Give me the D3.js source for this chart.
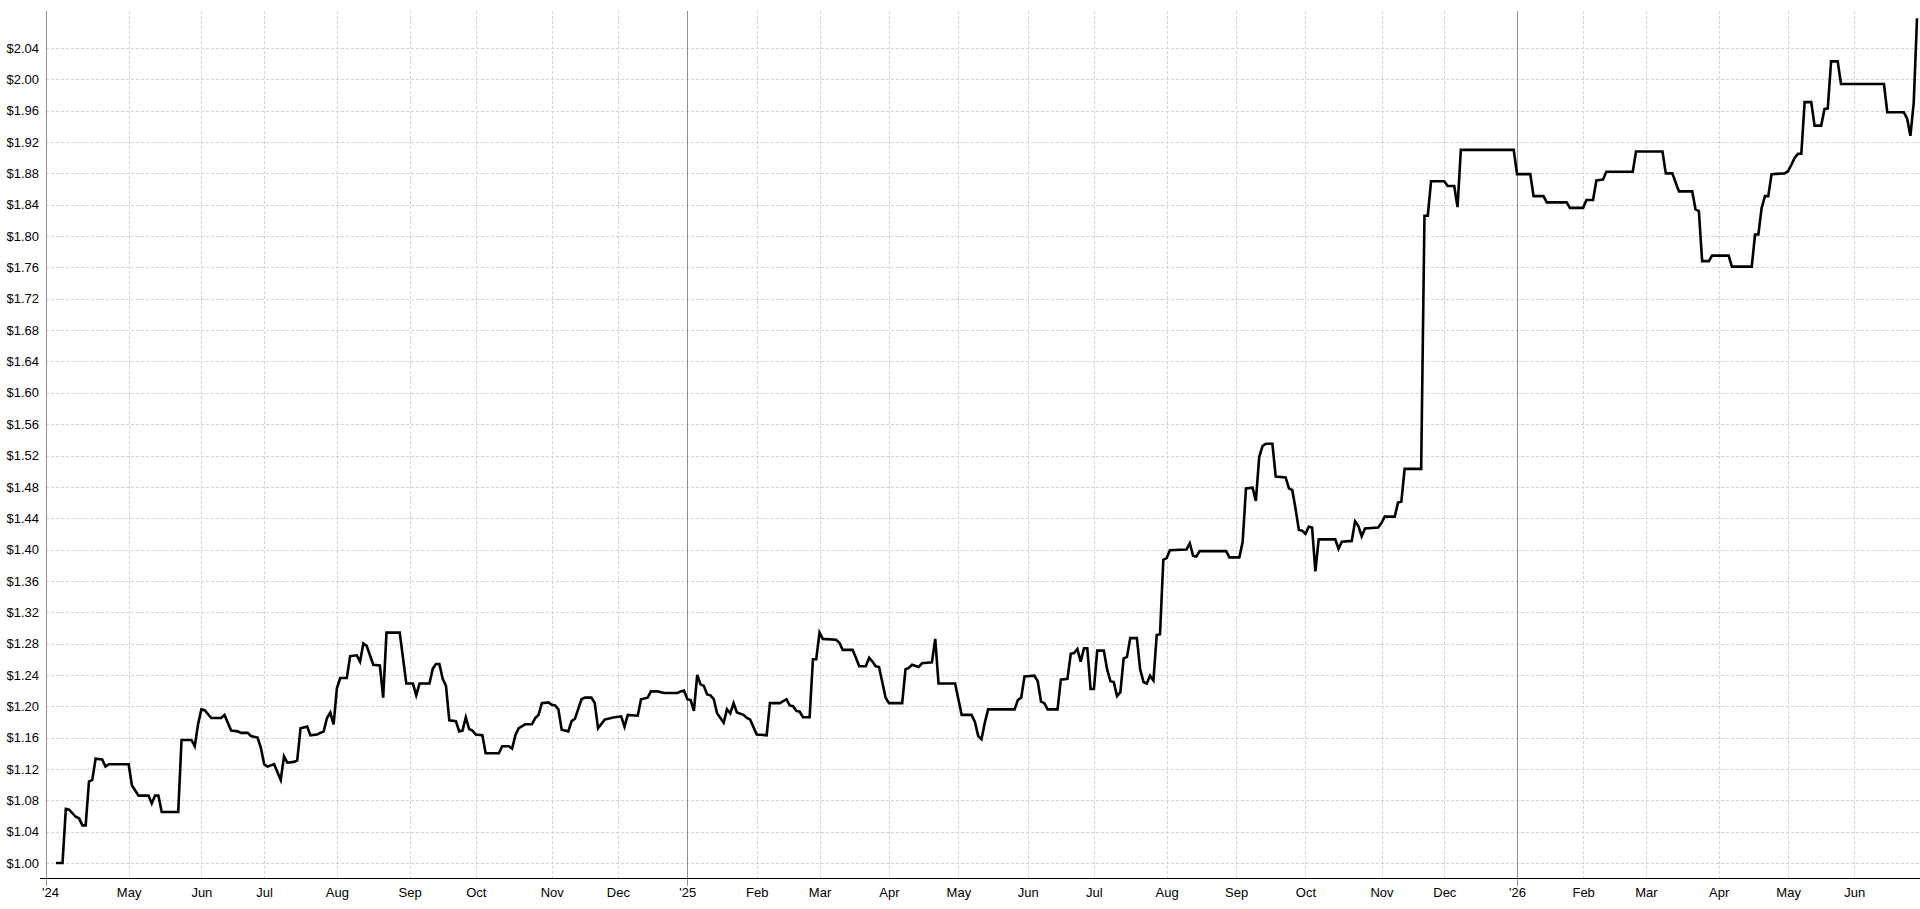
<!DOCTYPE html>
<html>
<head>
<meta charset="utf-8">
<script src="https://cdn.jsdelivr.net/npm/d3@7"></script>
<style>
  html, body { margin: 0; padding: 0; background: #fff; }
  svg { display: block; }
  text { font-family: "Liberation Sans", Arial, sans-serif; font-size: 13px; fill: #000; }
</style>
</head>
<body>
<svg id="chart" width="1920" height="909"></svg>
<script>
// trading-day index (0 = left edge of the axis) and closing value
var days = [3,5,6,7,9,10,11,12,13,14,15,17,18,19,25,26,28,31,32,33,34,35,40,41,44,45,46,47,48,50,
  53,54,56,58,59,61,62,64,65,66,67,69,70,71,72,73,75,76,77,79,80,82,83,84,85,86,87,88,89,91,
  92,94,95,96,97,99,101,102,103,107,109,111,112,113,116,117,118,119,120,121,122,124,125,126,127,128,129,130,132,133,
  137,138,140,141,142,143,145,147,148,149,150,152,153,154,155,156,158,159,160,162,163,165,166,167,169,171,172,174,175,176,
  179,180,182,183,185,187,191,192,193,194,195,196,197,198,199,200,201,202,203,205,206,207,208,209,211,212,213,215,218,219,
  222,224,225,226,227,228,229,231,232,233,234,235,239,240,241,244,245,246,248,249,250,251,252,254,255,259,260,261,262,264,
  265,268,269,270,275,277,280,281,282,283,284,285,293,294,295,296,299,300,301,302,303,306,307,309,310,311,312,313,314,315,
  316,317,318,320,321,322,323,324,325,326,327,328,330,331,332,333,334,335,336,337,338,339,340,345,346,347,348,349,357,358,
  361,362,363,365,366,367,368,369,371,372,375,376,377,378,379,380,381,382,383,384,385,390,391,392,395,396,397,398,399,403,
  404,405,408,409,410,411,416,417,418,419,423,424,426,427,428,444,445,449,450,453,454,460,461,465,466,468,469,471,472,480,
  481,489,490,492,493,494,498,499,500,501,503,504,509,510,516,517,518,519,520,521,522,526,527,528,529,530,531,532,534,535,
  537,538,539,540,542,543,556,557,562,563,564,565,566];

var price = [1.000,1.000,1.069,1.068,1.059,1.057,1.048,1.048,1.104,1.106,1.133,1.132,1.123,1.126,1.126,1.099,1.086,1.086,1.076,1.086,1.086,1.065,1.065,1.157,1.157,1.149,1.177,1.196,1.195,1.185,
  1.185,1.189,1.169,1.168,1.166,1.166,1.162,1.160,1.147,1.126,1.123,1.126,1.116,1.106,1.136,1.128,1.129,1.131,1.172,1.174,1.163,1.164,1.166,1.168,1.185,1.192,1.177,1.223,1.236,1.236,
  1.264,1.265,1.257,1.280,1.277,1.253,1.252,1.211,1.294,1.294,1.229,1.229,1.214,1.229,1.229,1.248,1.254,1.254,1.235,1.226,1.182,1.181,1.168,1.169,1.186,1.171,1.169,1.164,1.163,1.140,
  1.140,1.149,1.149,1.146,1.163,1.172,1.177,1.177,1.185,1.189,1.204,1.205,1.202,1.201,1.196,1.170,1.168,1.181,1.184,1.209,1.211,1.211,1.204,1.172,1.183,1.185,1.186,1.187,1.174,1.189,
  1.188,1.209,1.211,1.219,1.219,1.217,1.217,1.219,1.220,1.209,1.208,1.194,1.240,1.228,1.226,1.215,1.214,1.209,1.191,1.179,1.196,1.191,1.204,1.192,1.189,1.185,1.183,1.164,1.163,1.204,
  1.204,1.209,1.201,1.200,1.194,1.193,1.186,1.186,1.260,1.260,1.294,1.286,1.285,1.281,1.272,1.272,1.262,1.251,1.251,1.262,1.257,1.251,1.250,1.211,1.204,1.204,1.247,1.249,1.253,1.250,
  1.255,1.256,1.286,1.229,1.229,1.189,1.189,1.180,1.162,1.158,1.179,1.196,1.196,1.208,1.211,1.238,1.239,1.232,1.206,1.204,1.196,1.196,1.234,1.235,1.267,1.268,1.273,1.257,1.274,1.274,
  1.222,1.222,1.271,1.271,1.247,1.232,1.231,1.213,1.218,1.261,1.263,1.287,1.287,1.247,1.231,1.229,1.239,1.233,1.291,1.292,1.387,1.389,1.399,1.400,1.408,1.392,1.391,1.398,1.398,1.390,
  1.390,1.410,1.478,1.479,1.462,1.518,1.532,1.535,1.535,1.493,1.492,1.478,1.476,1.452,1.425,1.424,1.420,1.429,1.428,1.372,1.413,1.413,1.401,1.410,1.411,1.436,1.430,1.417,1.427,1.428,
  1.434,1.442,1.442,1.460,1.461,1.503,1.503,1.826,1.826,1.870,1.870,1.864,1.864,1.837,1.910,1.910,1.879,1.879,1.851,1.851,1.843,1.843,1.836,1.836,1.846,1.846,1.871,1.872,1.882,1.882,
  1.908,1.908,1.880,1.880,1.868,1.857,1.857,1.834,1.832,1.768,1.768,1.775,1.775,1.761,1.761,1.802,1.802,1.836,1.851,1.851,1.879,1.880,1.883,1.891,1.900,1.905,1.905,1.971,1.971,1.941,
  1.941,1.962,1.963,2.023,2.023,1.994,1.994,1.958,1.958,1.950,1.928,1.970,2.078];

// month ticks (trading-day index of the first session of each month)
var tickDays   = [0,25,47,66,88,110,130,153,173,194,215,234,255,276,297,317,339,360,381,404,423,445,465,484,506,527,547];
var tickLabels = ["'24","May","Jun","Jul","Aug","Sep","Oct","Nov","Dec","'25","Feb","Mar","Apr","May","Jun","Jul","Aug","Sep","Oct","Nov","Dec","'26","Feb","Mar","Apr","May","Jun"];
var yearTicks  = [194, 445];

var yTicks = d3.range(27).map(function(i) { return +(1 + i * 0.04).toFixed(2); });

var svg = d3.select("#chart");
var plotLeft = 46, plotRight = 1920, plotTop = 11, plotBottom = 878;

var x = d3.scaleLinear().domain([0, 566.9]).range([plotLeft, plotRight]);
var y = d3.scaleLinear().domain([0.98086, 2.08722]).range([plotBottom, plotTop]);

// horizontal grid
svg.append("g").selectAll("line").data(yTicks).enter().append("line")
  .attr("x1", plotLeft).attr("x2", plotRight)
  .attr("y1", function(d) { return Math.round(y(d)) + 0.5; })
  .attr("y2", function(d) { return Math.round(y(d)) + 0.5; })
  .attr("stroke", "#d4d4d4").attr("stroke-dasharray", "3,2");

// vertical grid, solid for year starts
svg.append("g").selectAll("line").data(tickDays.slice(1)).enter().append("line")
  .attr("x1", function(d) { return Math.round(x(d)) + 0.5; })
  .attr("x2", function(d) { return Math.round(x(d)) + 0.5; })
  .attr("y1", plotTop)
  .attr("y2", function(d) { return yearTicks.indexOf(d) >= 0 ? plotBottom + 8 : plotBottom; })
  .attr("stroke", function(d) { return yearTicks.indexOf(d) >= 0 ? "#8f8f8f" : "#d4d4d4"; })
  .attr("stroke-dasharray", function(d) { return yearTicks.indexOf(d) >= 0 ? null : "3,2"; });

// y axis line
svg.append("line")
  .attr("x1", plotLeft + 0.5).attr("x2", plotLeft + 0.5)
  .attr("y1", plotTop).attr("y2", plotBottom + 8)
  .attr("stroke", "#8f8f8f");

// x axis line
svg.append("line")
  .attr("x1", 40).attr("x2", plotRight)
  .attr("y1", plotBottom + 0.5).attr("y2", plotBottom + 0.5)
  .attr("stroke", "#000");

// y labels
var yAxis = d3.axisLeft(y).tickValues(yTicks)
  .tickFormat(function(d) { return "$" + d.toFixed(2); })
  .tickSize(0).tickPadding(7);
var gy = svg.append("g").attr("transform", "translate(" + plotLeft + ",0)").call(yAxis);
gy.select(".domain").remove();
gy.selectAll("text").attr("font-family", null).attr("font-size", null);
gy.attr("font-family", null).attr("font-size", null);

// x labels
var xAxis = d3.axisBottom(x).tickValues(tickDays)
  .tickFormat(function(d, i) { return tickLabels[i]; })
  .tickSize(0).tickPadding(10);
var gx = svg.append("g").attr("transform", "translate(0," + plotBottom + ")").call(xAxis);
gx.select(".domain").remove();
gx.attr("font-family", null).attr("font-size", null);
gx.selectAll("text").attr("dx", function(d) { return d === 0 ? 4 : 0; });

// price line
var line = d3.line()
  .x(function(d) { return x(d[0]); })
  .y(function(d) { return y(d[1]); });

svg.append("path")
  .datum(d3.zip(days, price))
  .attr("d", line)
  .attr("fill", "none")
  .attr("stroke", "#000")
  .attr("stroke-width", 2.6);
</script>
</body>
</html>
